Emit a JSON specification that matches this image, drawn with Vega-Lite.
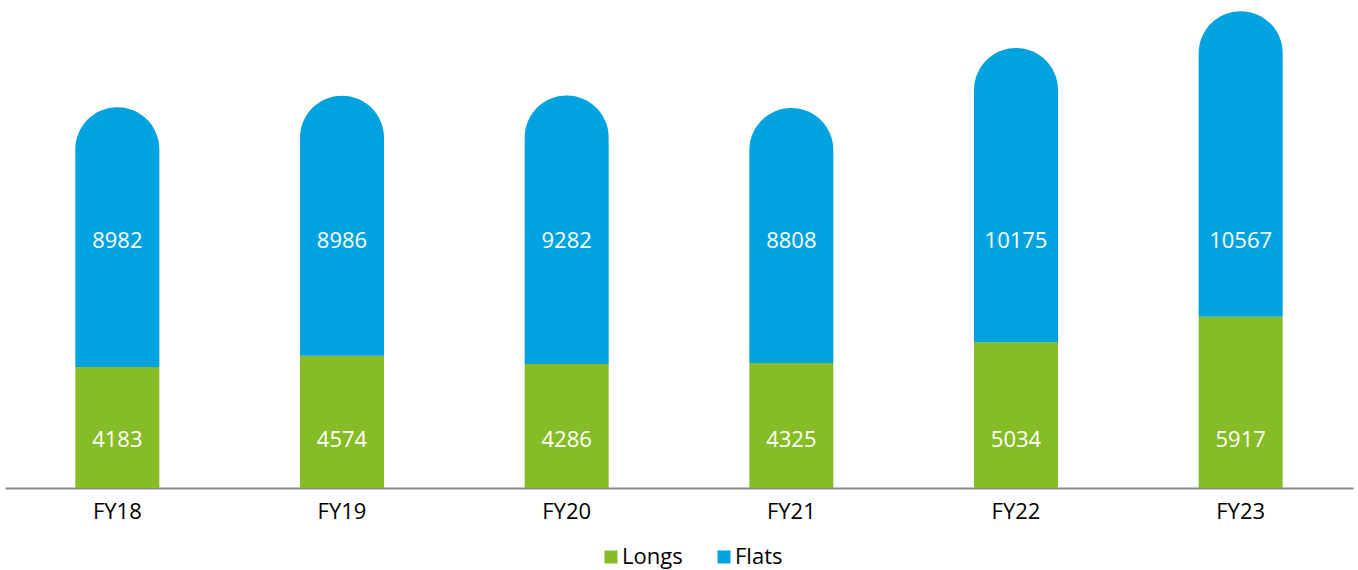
{
  "$schema": "https://vega.github.io/schema/vega-lite/v6.json",
  "autosize": {"type": "none"},
  "width": 1348,
  "height": 486,
  "padding": {"left": 5, "top": 2, "right": 5, "bottom": 82},
  "background": "white",
  "config": {
    "view": {"stroke": null},
    "font": "Open Sans"
  },
  "data": {
    "values": [
      {"year": "FY18", "series": "Longs", "value": 4183},
      {"year": "FY18", "series": "Flats", "value": 8982},
      {"year": "FY19", "series": "Longs", "value": 4574},
      {"year": "FY19", "series": "Flats", "value": 8986},
      {"year": "FY20", "series": "Longs", "value": 4286},
      {"year": "FY20", "series": "Flats", "value": 9282},
      {"year": "FY21", "series": "Longs", "value": 4325},
      {"year": "FY21", "series": "Flats", "value": 8808},
      {"year": "FY22", "series": "Longs", "value": 5034},
      {"year": "FY22", "series": "Flats", "value": 10175},
      {"year": "FY23", "series": "Longs", "value": 5917},
      {"year": "FY23", "series": "Flats", "value": 10567}
    ]
  },
  "transform": [
    {"stack": "value", "groupby": ["year"], "sort": [{"field": "series", "order": "descending"}], "as": ["v0", "v1"]}
  ],
  "encoding": {
    "x": {
      "field": "year",
      "type": "nominal",
      "scale": {"paddingInner": 0.626, "paddingOuter": 0.313},
      "axis": {
        "title": null,
        "labelAngle": 0,
        "labelFontSize": 22,
        "labelColor": "#000000",
        "labelPadding": 13,
        "ticks": false,
        "domainColor": "#8a8a8a",
        "domainWidth": 2,
        "grid": false
      }
    }
  },
  "layer": [
    {
      "transform": [{"filter": "datum.series === 'Longs'"}],
      "mark": {"type": "bar"},
      "encoding": {
        "y": {"field": "v1", "type": "quantitative", "scale": {"domain": [0, 16800], "nice": false, "zero": true}, "axis": null},
        "y2": {"field": "v0"},
        "color": {
          "field": "series",
          "type": "nominal",
          "scale": {"domain": ["Longs", "Flats"], "range": ["#86BC25", "#00A3E0"]},
          "legend": {
            "title": null,
            "orient": "none",
            "direction": "horizontal",
            "legendX": 595,
            "legendY": 544,
            "symbolType": "square",
            "symbolSize": 169,
            "symbolStrokeWidth": 0,
            "symbolOpacity": 1,
            "labelFontSize": 22,
            "labelColor": "#000000",
            "labelOffset": 0,
            "columnPadding": 30
          }
        }
      }
    },
    {
      "transform": [{"filter": "datum.series === 'Flats'"}],
      "mark": {"type": "bar", "cornerRadiusTopLeft": 42, "cornerRadiusTopRight": 42},
      "encoding": {
        "y": {"field": "v1", "type": "quantitative"},
        "y2": {"field": "v0"},
        "color": {"field": "series", "type": "nominal"}
      }
    },
    {
      "transform": [{"filter": "datum.series === 'Longs'"}],
      "mark": {"type": "text", "color": "white", "fontSize": 22, "baseline": "middle"},
      "encoding": {
        "y": {"datum": 1650},
        "text": {"field": "value", "type": "quantitative", "format": "d"}
      }
    },
    {
      "transform": [{"filter": "datum.series === 'Flats'"}],
      "mark": {"type": "text", "color": "white", "fontSize": 22, "baseline": "middle"},
      "encoding": {
        "y": {"datum": 8550},
        "text": {"field": "value", "type": "quantitative", "format": "d"}
      }
    }
  ]
}
